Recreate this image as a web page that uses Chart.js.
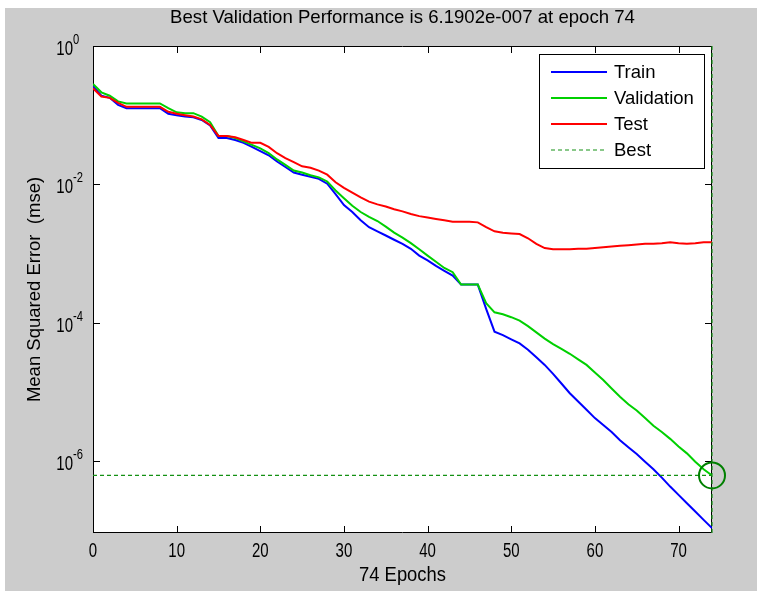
<!DOCTYPE html>
<html>
<head>
<meta charset="utf-8">
<script src="https://cdn.jsdelivr.net/npm/chart.js@4/dist/chart.umd.min.js"></script>
<style>
    html, body { margin: 0; padding: 0; background: #ffffff; }
    #wrap { width: 757px; height: 591px; }
</style>
</head>
<body>
<div id="wrap"><canvas id="perfChart" width="757" height="591"></canvas></div>
<script>
// epochs 0..74
const epochs = Array.from({ length: 75 }, (_, i) => i);

const trainMse = [
    2.63e-1, 1.91e-1, 1.78e-1, 1.41e-1, 1.26e-1, 1.26e-1, 1.26e-1, 1.26e-1, 1.26e-1, 1.05e-1,
    1.00e-1, 9.55e-2, 9.33e-2, 8.51e-2, 7.08e-2, 4.68e-2, 4.68e-2, 4.37e-2, 3.98e-2, 3.47e-2,
    3.02e-2, 2.63e-2, 2.14e-2, 1.78e-2, 1.48e-2, 1.38e-2, 1.29e-2, 1.20e-2, 1.02e-2, 7.24e-3,
    5.01e-3, 3.98e-3, 3.02e-3, 2.40e-3, 2.09e-3, 1.82e-3, 1.58e-3, 1.38e-3, 1.17e-3, 9.33e-4,
    7.94e-4, 6.61e-4, 5.62e-4, 4.79e-4, 3.55e-4, 3.55e-4, 3.55e-4, 1.58e-4, 7.41e-5, 6.61e-5,
    5.75e-5, 5.01e-5, 4.07e-5, 3.16e-5, 2.45e-5, 1.82e-5, 1.32e-5, 9.55e-6, 7.24e-6, 5.50e-6,
    4.17e-6, 3.31e-6, 2.63e-6, 2.00e-6, 1.58e-6, 1.26e-6, 9.77e-7, 7.59e-7, 5.75e-7, 4.27e-7,
    3.24e-7, 2.45e-7, 1.86e-7, 1.41e-7, 1.07e-7
];

const validationMse = [
    2.82e-1, 2.14e-1, 1.91e-1, 1.58e-1, 1.48e-1, 1.48e-1, 1.48e-1, 1.48e-1, 1.48e-1, 1.26e-1,
    1.10e-1, 1.07e-1, 1.07e-1, 9.55e-2, 7.94e-2, 5.01e-2, 5.01e-2, 4.68e-2, 4.17e-2, 3.72e-2,
    3.31e-2, 2.82e-2, 2.29e-2, 1.91e-2, 1.58e-2, 1.48e-2, 1.35e-2, 1.26e-2, 1.10e-2, 8.13e-3,
    6.31e-3, 4.90e-3, 3.98e-3, 3.39e-3, 2.95e-3, 2.45e-3, 2.00e-3, 1.70e-3, 1.41e-3, 1.15e-3,
    9.33e-4, 7.59e-4, 6.17e-4, 5.37e-4, 3.55e-4, 3.55e-4, 3.55e-4, 1.91e-4, 1.41e-4, 1.32e-4,
    1.20e-4, 1.07e-4, 8.91e-5, 7.24e-5, 5.89e-5, 4.90e-5, 4.17e-5, 3.55e-5, 2.95e-5, 2.45e-5,
    1.91e-5, 1.48e-5, 1.12e-5, 8.51e-6, 6.61e-6, 5.37e-6, 4.17e-6, 3.24e-6, 2.63e-6, 2.09e-6,
    1.62e-6, 1.29e-6, 9.77e-7, 7.59e-7, 6.1902e-7
];

const testMse = [
    2.45e-1, 1.86e-1, 1.78e-1, 1.51e-1, 1.32e-1, 1.32e-1, 1.32e-1, 1.32e-1, 1.32e-1, 1.12e-1,
    1.05e-1, 1.00e-1, 9.55e-2, 8.71e-2, 7.24e-2, 5.01e-2, 5.01e-2, 4.79e-2, 4.37e-2, 3.98e-2,
    3.98e-2, 3.47e-2, 2.82e-2, 2.40e-2, 2.09e-2, 1.82e-2, 1.74e-2, 1.58e-2, 1.38e-2, 1.07e-2,
    8.91e-3, 7.59e-3, 6.46e-3, 5.62e-3, 5.13e-3, 4.79e-3, 4.37e-3, 4.07e-3, 3.72e-3, 3.47e-3,
    3.31e-3, 3.16e-3, 3.02e-3, 2.88e-3, 2.88e-3, 2.88e-3, 2.82e-3, 2.40e-3, 2.09e-3, 2.00e-3,
    1.95e-3, 1.91e-3, 1.66e-3, 1.38e-3, 1.20e-3, 1.15e-3, 1.15e-3, 1.15e-3, 1.17e-3, 1.17e-3,
    1.20e-3, 1.23e-3, 1.26e-3, 1.29e-3, 1.32e-3, 1.35e-3, 1.38e-3, 1.38e-3, 1.41e-3, 1.45e-3,
    1.41e-3, 1.38e-3, 1.41e-3, 1.45e-3, 1.45e-3
];

const bestEpoch = 74;
const bestValue = 6.1902e-7;

const xTickValues = [0, 10, 20, 30, 40, 50, 60, 70];
const yTickExponents = [0, -2, -4, -6];
const yMin = 9.1e-8;
const yMax = 1;

const chartTitle = 'Best Validation Performance is 6.1902e-007 at epoch 74';
const xTitle = '74 Epochs';
const yTitle = 'Mean Squared Error  (mse)';

const FONT = '"Liberation Sans", Arial, sans-serif';
const BEST_GREEN = 'rgb(20,145,20)';

function drawText(ctx, text, x, y, size, sx, align, baseline) {
    ctx.save();
    ctx.translate(x, y);
    ctx.scale(sx, 1);
    ctx.font = size + 'px ' + FONT;
    ctx.fillStyle = '#000000';
    ctx.textAlign = align;
    ctx.textBaseline = baseline;
    ctx.fillText(text, 0, 0);
    ctx.restore();
}

// background, axes box, tick marks and tick labels
const matlabAxes = {
    id: 'matlabAxes',
    beforeDraw(chart) {
        const ctx = chart.ctx;
        const a = chart.chartArea;
        ctx.save();
        ctx.fillStyle = '#ffffff';
        ctx.fillRect(0, 0, chart.width, chart.height);
        ctx.fillStyle = '#cccccc';
        ctx.fillRect(5, 8, chart.width - 5, chart.height - 8);
        ctx.fillStyle = '#ffffff';
        ctx.fillRect(a.left, a.top, a.right - a.left, a.bottom - a.top);
        ctx.restore();
    },
    beforeDatasetsDraw(chart) {
        const ctx = chart.ctx;
        const a = chart.chartArea;
        const xs = chart.scales.x;
        const ys = chart.scales.y;
        const tick = 7;

        ctx.save();
        ctx.strokeStyle = '#000000';
        ctx.lineWidth = 1;
        ctx.beginPath();
        ctx.rect(a.left + 0.5, a.top + 0.5, a.right - a.left - 1, a.bottom - a.top - 1);

        xTickValues.forEach(v => {
            const px = Math.round(xs.getPixelForValue(v)) + 0.5;
            ctx.moveTo(px, a.bottom);
            ctx.lineTo(px, a.bottom - tick);
            ctx.moveTo(px, a.top);
            ctx.lineTo(px, a.top + tick);
        });
        yTickExponents.forEach(e => {
            const py = Math.round(ys.getPixelForValue(Math.pow(10, e))) + 0.5;
            ctx.moveTo(a.left, py);
            ctx.lineTo(a.left + tick, py);
            ctx.moveTo(a.right, py);
            ctx.lineTo(a.right - tick, py);
        });
        ctx.stroke();
        ctx.restore();

        xTickValues.forEach(v => {
            drawText(ctx, String(v), xs.getPixelForValue(v), a.bottom + 18, 20, 0.75, 'center', 'middle');
        });
        yTickExponents.forEach(e => {
            const py = ys.getPixelForValue(Math.pow(10, e));
            drawText(ctx, '10', a.left - 20, py + 9, 20, 0.75, 'right', 'alphabetic');
            drawText(ctx, String(e), a.left - 20, py - 2, 14, 0.8, 'left', 'alphabetic');
        });

        drawText(ctx, chartTitle, (a.left + a.right) / 2, 18, 18.6, 1, 'center', 'middle');
        drawText(ctx, xTitle, (a.left + a.right) / 2, 575, 20, 0.92, 'center', 'middle');

        ctx.save();
        ctx.translate(35, (a.top + a.bottom) / 2);
        ctx.rotate(-Math.PI / 2);
        drawText(ctx, yTitle, 0, 0, 18.5, 1, 'center', 'middle');
        ctx.restore();
    },
    afterDatasetsDraw(chart) {
        const ctx = chart.ctx;
        const items = chart.data.datasets.filter(d => d.inLegend);
        const box = { left: 539, top: 54, right: 704, bottom: 168 };

        ctx.save();
        ctx.fillStyle = '#ffffff';
        ctx.fillRect(box.left, box.top, box.right - box.left, box.bottom - box.top);
        ctx.strokeStyle = '#000000';
        ctx.lineWidth = 1;
        ctx.strokeRect(box.left + 0.5, box.top + 0.5, box.right - box.left, box.bottom - box.top);

        items.forEach((d, i) => {
            const y = 72 + i * 26;
            ctx.beginPath();
            ctx.strokeStyle = d.borderColor;
            ctx.lineWidth = d.borderWidth;
            ctx.setLineDash(d.borderDash || []);
            ctx.moveTo(551, y);
            ctx.lineTo(607, y);
            ctx.stroke();
            ctx.setLineDash([]);
            drawText(ctx, d.label, 614, y + 1, 18.5, 1, 'left', 'middle');
        });
        ctx.restore();
    }
};

const ctx = document.getElementById('perfChart').getContext('2d');
const perfChart = new Chart(ctx, {
    type: 'line',
    data: {
        labels: epochs,
        datasets: [
            {
                label: 'Train',
                data: trainMse,
                borderColor: '#0000ff',
                borderWidth: 2,
                pointRadius: 0,
                tension: 0,
                order: 5,
                inLegend: true
            },
            {
                label: 'Validation',
                data: validationMse,
                borderColor: '#00d000',
                borderWidth: 2,
                pointRadius: 0,
                tension: 0,
                order: 4,
                inLegend: true
            },
            {
                label: 'Test',
                data: testMse,
                borderColor: '#ff0000',
                borderWidth: 2,
                pointRadius: 0,
                tension: 0,
                order: 3,
                inLegend: true
            },
            {
                label: 'Best',
                data: [{ x: 0, y: bestValue }, { x: bestEpoch, y: bestValue }],
                borderColor: BEST_GREEN,
                borderWidth: 1.2,
                borderDash: [4, 3],
                pointRadius: 0,
                order: 2,
                inLegend: true
            },
            {
                label: 'Best epoch',
                data: [{ x: bestEpoch, y: yMin }, { x: bestEpoch, y: yMax }],
                borderColor: BEST_GREEN,
                borderWidth: 1.2,
                borderDash: [4, 3],
                pointRadius: 0,
                order: 1,
                clip: false
            },
            {
                label: 'Best point',
                data: [{ x: bestEpoch, y: bestValue }],
                showLine: false,
                pointRadius: 13,
                pointBorderWidth: 2,
                pointBorderColor: 'rgb(0,128,0)',
                pointBackgroundColor: 'rgba(0,0,0,0)',
                order: 0,
                clip: false
            }
        ]
    },
    options: {
        responsive: false,
        animation: false,
        devicePixelRatio: 1,
        layout: { padding: { left: 93, top: 46, right: 45, bottom: 58 } },
        scales: {
            x: { type: 'linear', min: 0, max: bestEpoch, display: false },
            y: { type: 'logarithmic', min: yMin, max: yMax, display: false }
        },
        plugins: {
            legend: { display: false },
            title: { display: false },
            tooltip: { enabled: false }
        }
    },
    plugins: [matlabAxes]
});
</script>
</body>
</html>
